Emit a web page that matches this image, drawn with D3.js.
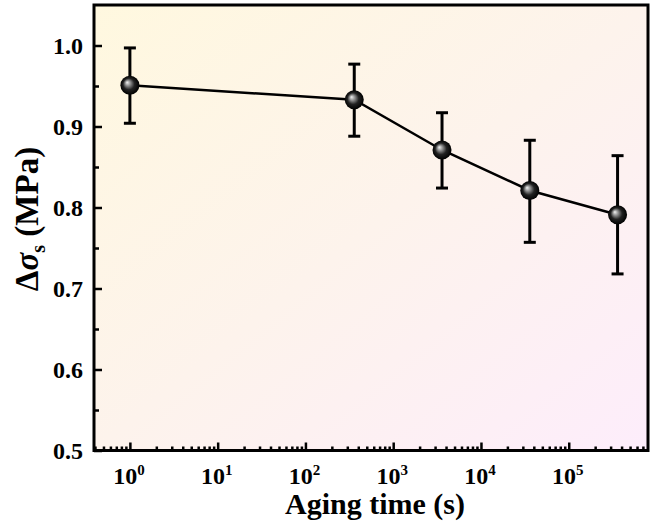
<!DOCTYPE html>
<html>
<head>
<meta charset="utf-8">
<script src="https://cdn.jsdelivr.net/npm/d3@7"></script>
<style>
  body { margin: 0; background: #fff; }
  text { font-family: "Liberation Serif", "Times New Roman", serif; font-weight: bold; fill: #000; }
</style>
</head>
<body>
<script>
// data
const agingTime = [1, 360, 3600, 36000, 360000];
const deltaSigma = [0.951, 0.933, 0.871, 0.821, 0.791];
const errUpper = [0.997, 0.977, 0.917, 0.883, 0.864];
const errLower = [0.904, 0.888, 0.824, 0.757, 0.718];
const yTicks = [0.5, 0.6, 0.7, 0.8, 0.9, 1.0];
const xTicks = [1, 10, 100, 1000, 10000, 100000];

const w = 666, h = 524;
const mLeft = 94, mRight = 648, mTop = 5, mBottom = 450.5;

const svg = d3.select("body").append("svg")
  .attr("width", w)
  .attr("height", h);

const x = d3.scaleLog().domain([0.39, 8e5]).range([mLeft, mRight]);
const y = d3.scaleLinear().domain([0.5, 1.05]).range([mBottom, mTop]);

const defs = svg.append("defs");
// background gradient: cream yellow top-left -> light pink bottom-right
const bg = defs.append("linearGradient").attr("id", "bg")
  .attr("x1", "0").attr("y1", "0").attr("x2", "1").attr("y2", "1");
bg.append("stop").attr("offset", "0%").attr("stop-color", "#fff8df");
bg.append("stop").attr("offset", "50%").attr("stop-color", "#fdf3ec");
bg.append("stop").attr("offset", "100%").attr("stop-color", "#fdedfb");

// sphere look for the markers
const ball = defs.append("radialGradient").attr("id", "ball")
  .attr("cx", "0.5").attr("cy", "0.5").attr("r", "0.5")
  .attr("fx", "0.35").attr("fy", "0.35");
ball.append("stop").attr("offset", "0%").attr("stop-color", "#f4f4f4");
ball.append("stop").attr("offset", "25%").attr("stop-color", "#9a9a9a");
ball.append("stop").attr("offset", "60%").attr("stop-color", "#222");
ball.append("stop").attr("offset", "100%").attr("stop-color", "#000");

svg.append("rect")
  .attr("x", mLeft).attr("y", mTop)
  .attr("width", mRight - mLeft).attr("height", mBottom - mTop)
  .attr("fill", "url(#bg)");

// minor ticks
const xMinor = [];
for (let e = -1; e <= 5; e++) {
  for (let m = 2; m <= 9; m++) {
    const v = m * Math.pow(10, e);
    if (v > 0.39 && v < 8e5) xMinor.push(v);
  }
}
const yMinor = d3.range(0.55, 1.05, 0.1);

const xAxis = svg.append("g").attr("transform", `translate(0,${mBottom})`)
  .call(d3.axisBottom(x).tickValues(xTicks).tickSize(-8).tickFormat(""));
xAxis.select(".domain").remove();
const xAxisMinor = svg.append("g").attr("transform", `translate(0,${mBottom})`)
  .call(d3.axisBottom(x).tickValues(xMinor).tickSize(-4).tickFormat(""));
xAxisMinor.select(".domain").remove();

const yAxis = svg.append("g").attr("transform", `translate(${mLeft},0)`)
  .call(d3.axisLeft(y).tickValues(yTicks).tickSize(-8).tickFormat(""));
yAxis.select(".domain").remove();
const yAxisMinor = svg.append("g").attr("transform", `translate(${mLeft},0)`)
  .call(d3.axisLeft(y).tickValues(yMinor).tickSize(-5).tickFormat(""));
yAxisMinor.select(".domain").remove();

svg.selectAll(".tick line").attr("stroke", "#000").attr("stroke-width", 2.5);

// tick labels
svg.append("g").selectAll("text").data(yTicks).join("text")
  .attr("x", mLeft - 11)
  .attr("y", d => y(d) + 8)
  .attr("text-anchor", "end")
  .attr("font-size", 24)
  .text(d => d.toFixed(1));

const xl = svg.append("g").selectAll("text").data(xTicks).join("text")
  .attr("x", d => x(d) - 1)
  .attr("y", 484)
  .attr("text-anchor", "middle")
  .attr("font-size", 24);
xl.append("tspan").text("10");
xl.append("tspan").attr("dy", -9).attr("font-size", 15)
  .text(d => Math.round(Math.log10(d)));

// frame
svg.append("rect")
  .attr("x", mLeft).attr("y", mTop)
  .attr("width", mRight - mLeft).attr("height", mBottom - mTop)
  .attr("fill", "none").attr("stroke", "#000").attr("stroke-width", 3);

// axis titles
svg.append("text")
  .attr("x", 375)
  .attr("y", 514)
  .attr("text-anchor", "middle")
  .attr("font-size", 30)
  .text("Aging time (s)");

const yt = svg.append("text")
  .attr("transform", `translate(38,219) rotate(-90)`)
  .attr("text-anchor", "middle")
  .attr("font-size", 33);
yt.append("tspan").text("Δ");
yt.append("tspan").attr("font-style", "italic").text("σ");
yt.append("tspan").attr("font-size", 20).attr("dy", 7).text("s");
yt.append("tspan").attr("dy", -7).text(" (MPa)");

// data
const pts = agingTime.map((t, i) => ({ t, v: deltaSigma[i], hi: errUpper[i], lo: errLower[i] }));

const eb = svg.append("g").attr("stroke", "#000").attr("stroke-width", 3);
eb.selectAll(".stem").data(pts).join("line")
  .attr("x1", d => x(d.t)).attr("x2", d => x(d.t))
  .attr("y1", d => y(d.hi)).attr("y2", d => y(d.lo));
eb.selectAll(".capHi").data(pts).join("line")
  .attr("x1", d => x(d.t) - 6).attr("x2", d => x(d.t) + 6)
  .attr("y1", d => y(d.hi)).attr("y2", d => y(d.hi));
eb.selectAll(".capLo").data(pts).join("line")
  .attr("x1", d => x(d.t) - 6).attr("x2", d => x(d.t) + 6)
  .attr("y1", d => y(d.lo)).attr("y2", d => y(d.lo));

svg.append("path").datum(pts)
  .attr("fill", "none").attr("stroke", "#000").attr("stroke-width", 2.5)
  .attr("d", d3.line().x(d => x(d.t)).y(d => y(d.v)));

svg.append("g").selectAll("circle").data(pts).join("circle")
  .attr("cx", d => x(d.t)).attr("cy", d => y(d.v))
  .attr("r", 9.5)
  .attr("fill", "url(#ball)");
</script>
</body>
</html>
